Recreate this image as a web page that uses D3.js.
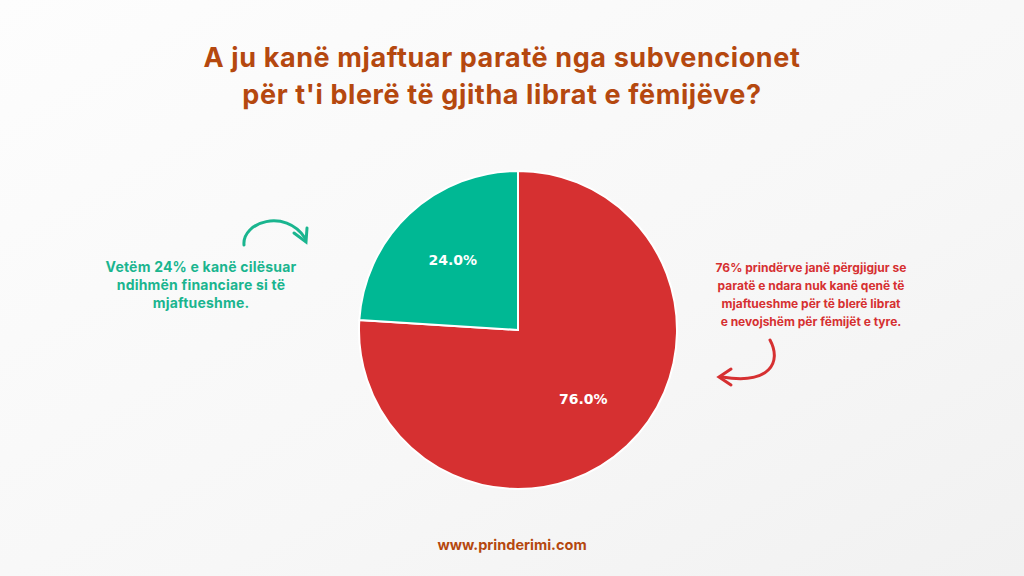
<!DOCTYPE html>
<html><head><meta charset="utf-8">
<script src="https://cdn.jsdelivr.net/npm/d3@7"></script>
<style>body{margin:0;background:#fff}</style>
</head><body><div id="chart"></div>
<script>
var labels = ["Jo", "Po"];
var values = [76, 24];
var colors = ["#d63031", "#00b894"];
var titleLines = ["A ju kanë mjaftuar paratë nga subvencionet", "për t'i blerë të gjitha librat e fëmijëve?"];
var leftNote = ["Vetëm 24% e kanë cilësuar", "ndihmën financiare si të", "mjaftueshme."];
var rightNote = ["76% prindërve janë përgjigjur se", "paratë e ndara nuk kanë qenë të", "mjaftueshme për të blerë librat", "e nevojshëm për fëmijët e tyre."];

var width = 1024, height = 576;
var svg = d3.select("#chart").append("svg").attr("width", width).attr("height", height);

var defs = svg.append("defs");
var grad = defs.append("linearGradient").attr("id", "bg").attr("x1", 0).attr("y1", 0).attr("x2", 1).attr("y2", 1);
grad.append("stop").attr("offset", "0%").attr("stop-color", "#fdfdfd");
grad.append("stop").attr("offset", "60%").attr("stop-color", "#f7f7f7");
grad.append("stop").attr("offset", "100%").attr("stop-color", "#f1f1f1");
svg.append("rect").attr("width", width).attr("height", height).attr("fill", "url(#bg)");

var font = "Inter, 'Open Sans', sans-serif";
svg.append("g").selectAll("text").data(titleLines).join("text")
    .attr("x", 502).attr("y", function(d, i){ return 67 + i * 37; })
    .attr("text-anchor", "middle").attr("font-family", font).attr("font-weight", 700)
    .attr("font-size", 27).attr("letter-spacing", 0.6).attr("fill", "#b5480f").text(function(d){ return d; });

// pie
var cx = 518, cy = 330, r = 159;
var pie = d3.pie().sort(null).value(function(d){ return d; });
var arc = d3.arc().innerRadius(0).outerRadius(r);
var labelArc = d3.arc().innerRadius(r * 0.6).outerRadius(r * 0.6);
var g = svg.append("g").attr("transform", "translate(" + cx + "," + cy + ")");
var arcs = pie(values);
g.selectAll("path").data(arcs).join("path")
    .attr("d", arc).attr("fill", function(d, i){ return colors[i]; })
    .attr("stroke", "#fff").attr("stroke-width", 2);
g.selectAll("text").data(arcs).join("text")
    .attr("transform", function(d){ return "translate(" + labelArc.centroid(d) + ")"; })
    .attr("text-anchor", "middle").attr("dy", "0.35em")
    .attr("font-family", "'DejaVu Sans', sans-serif").attr("font-weight", 700)
    .attr("font-size", 14).attr("fill", "#fff")
    .text(function(d){ return d.data.toFixed(1) + "%"; });

// notes
svg.append("g").selectAll("text").data(leftNote).join("text")
    .attr("x", 201).attr("y", function(d, i){ return 272 + i * 18; })
    .attr("text-anchor", "middle").attr("font-family", font).attr("font-weight", 700)
    .attr("font-size", 14).attr("letter-spacing", 0.2).attr("fill", "#1ab58f").text(function(d){ return d; });
svg.append("g").selectAll("text").data(rightNote).join("text")
    .attr("x", 811).attr("y", function(d, i){ return 272 + i * 18; })
    .attr("text-anchor", "middle").attr("font-family", font).attr("font-weight", 700)
    .attr("font-size", 12).attr("fill", "#d63031").text(function(d){ return d; });

// arrows
svg.append("path").attr("d", "M244,245 C242,222 285,208 305,238")
    .attr("fill", "none").attr("stroke", "#1ab58f").attr("stroke-width", 3).attr("stroke-linecap", "round");
svg.append("path").attr("d", "M294,233 L306,242 L307,228")
    .attr("fill", "none").attr("stroke", "#1ab58f").attr("stroke-width", 3).attr("stroke-linecap", "round");
svg.append("path").attr("d", "M770,340 C782,362 770,385 722,377")
    .attr("fill", "none").attr("stroke", "#d63031").attr("stroke-width", 3).attr("stroke-linecap", "round");
svg.append("path").attr("d", "M731,369 L719,377 L731,385")
    .attr("fill", "none").attr("stroke", "#d63031").attr("stroke-width", 3).attr("stroke-linecap", "round");

svg.append("text").attr("x", 512).attr("y", 550).attr("text-anchor", "middle")
    .attr("font-family", font).attr("font-weight", 700).attr("font-size", 14.5)
    .attr("fill", "#b5480f").text("www.prinderimi.com");
</script></body></html>
